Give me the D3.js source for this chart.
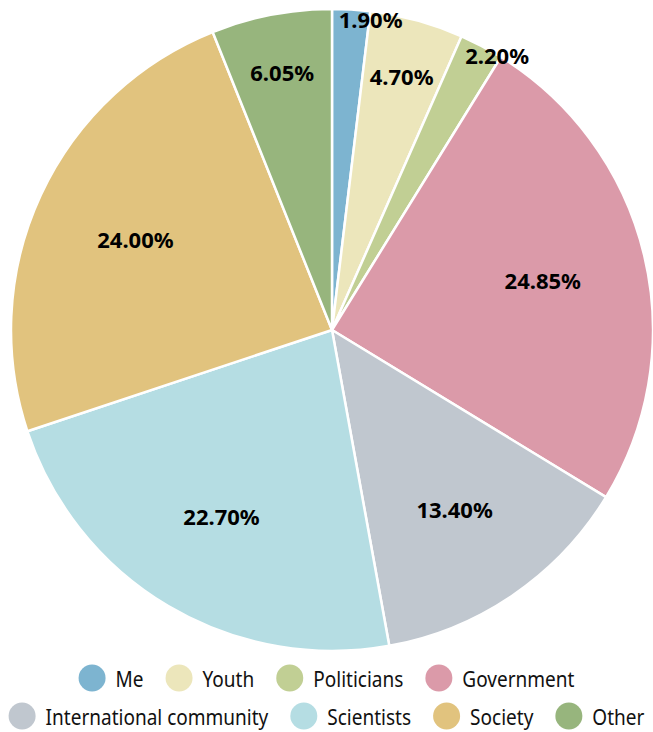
<!DOCTYPE html>
<html>
<head>
<meta charset="utf-8">
<script src="https://cdn.jsdelivr.net/npm/d3@7"></script>
<style>
  html, body { margin: 0; padding: 0; background: #fff; }
  svg { display: block; }
</style>
</head>
<body>
<svg id="chart" width="653" height="732"></svg>
<script>
// Who is responsible — shares of answers (%)
const categories = ["Me", "Youth", "Politicians", "Government", "International community", "Scientists", "Society", "Other"];
const shares = [1.90, 4.70, 2.20, 24.85, 13.40, 22.70, 24.00, 6.05];
const colors = ["#7db4d0", "#ece6bb", "#c1cf94", "#db9aa9", "#c0c7cf", "#b5dde3", "#e1c37e", "#97b57d"];
const legendRows = [[0, 1, 2, 3], [4, 5, 6, 7]];

const svg = d3.select("#chart");
const cx = 332, cy = 330, radius = 321;
const font = "'Noto Sans', 'Open Sans', sans-serif";

const data = categories.map((c, i) => ({ name: c, value: shares[i], color: colors[i] }));

const pie = d3.pie().sort(null).value(d => d.value);
const arcs = pie(data);
const arc = d3.arc().innerRadius(0).outerRadius(radius);

const g = svg.append("g").attr("transform", `translate(${cx},${cy})`);

g.selectAll("path.slice")
  .data(arcs)
  .join("path")
  .attr("class", "slice")
  .attr("d", arc)
  .attr("fill", d => d.data.color)
  .attr("stroke", "#fff")
  .attr("stroke-width", 2.5)
  .attr("stroke-linejoin", "round");

// Narrow slices get their labels pushed outward (and nudged off the slice edge)
function labelPos(d) {
  const v = d.data.value;
  const a = (d.startAngle + d.endAngle) / 2;
  let r = radius * 0.675, nudge = 0;
  if (v < 2.5) { r = radius * 0.97; nudge = 20; }
  else if (v < 10) { r = radius * 0.82; }
  return [Math.sin(a) * r + nudge, -Math.cos(a) * r];
}

g.selectAll("text.pct")
  .data(arcs)
  .join("text")
  .attr("class", "pct")
  .attr("transform", d => `translate(${labelPos(d)})`)
  .attr("text-anchor", "middle")
  .attr("dominant-baseline", "central")
  .attr("font-family", font)
  .attr("font-weight", "bold")
  .attr("font-size", 22)
  .attr("fill", "#000")
  .text(d => d.data.value.toFixed(2) + "%");

// Legend: two centred rows, text drawn slightly condensed
const legendSize = 22, squeeze = 0.865;
const legend = svg.append("g").attr("font-family", font).attr("font-size", legendSize);
const rowY = [678, 716];
const markerR = 13.5, gapAfterMarker = 10, itemGap = 22;

legendRows.forEach((row, ri) => {
  const rowG = legend.append("g");
  let x = 0;
  row.forEach(i => {
    const item = rowG.append("g").attr("transform", `translate(${x},${rowY[ri]})`);
    item.append("circle")
      .attr("cx", markerR).attr("cy", 0).attr("r", markerR)
      .attr("fill", colors[i]);
    const t = item.append("text")
      .attr("transform", `translate(${markerR * 2 + gapAfterMarker},0) scale(${squeeze},1)`)
      .attr("dominant-baseline", "central")
      .attr("fill", "#111")
      .text(categories[i]);
    x += markerR * 2 + gapAfterMarker + t.node().getComputedTextLength() * squeeze + itemGap;
  });
  const w = x - itemGap;
  rowG.attr("transform", `translate(${(653 - w) / 2},0)`);
});
</script>
</body>
</html>
